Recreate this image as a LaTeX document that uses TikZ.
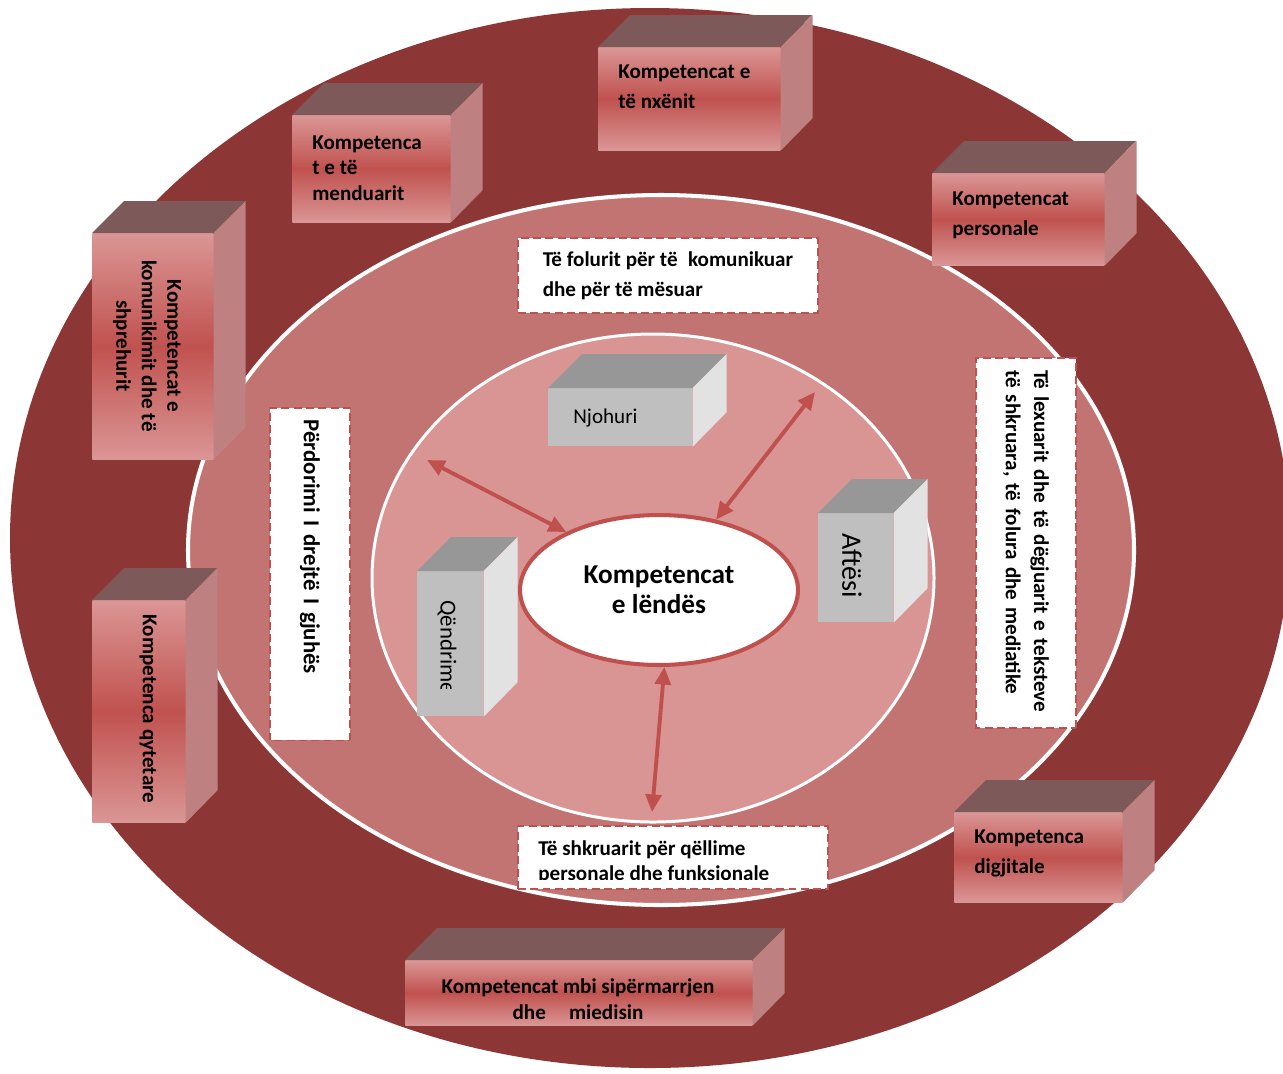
\documentclass[tikz,border=0pt]{standalone}
\usepackage{fontspec}
\setmainfont{Carlito}
\usetikzlibrary{arrows.meta,shapes.geometric}

\definecolor{outerred}{RGB}{140,54,53}
\definecolor{midred}{RGB}{194,116,115}
\definecolor{innerred}{RGB}{217,149,148}
\definecolor{linered}{RGB}{192,80,77}
\definecolor{boxpink}{RGB}{218,150,149}
\definecolor{boxred}{RGB}{192,82,79}
\definecolor{boxtop}{RGB}{126,89,89}
\definecolor{boxside}{RGB}{190,128,128}
\definecolor{greyfront}{RGB}{191,191,191}
\definecolor{greytop}{RGB}{151,151,151}
\definecolor{greyside}{RGB}{226,226,226}

\tikzset{
  redbox/.style={top color=boxpink, bottom color=boxpink, middle color=boxred, inner sep=0pt},
  redbox top/.style={fill=boxtop},
  redbox side/.style={fill=boxside},
  greybox/.style={fill=greyfront, inner sep=0pt},
  greybox top/.style={fill=greytop},
  greybox side/.style={fill=greyside},
  redtext/.style={font=\fontsize{12}{17}\selectfont\bfseries, align=left, inner sep=0pt},
  tight/.style={font=\fontsize{12}{14.5}\selectfont\bfseries},
  greytext/.style={font=\fontsize{12}{14}\selectfont, inner sep=0pt},
  dashbox/.style={draw=linered, line width=1.1pt, dash pattern=on 4.5pt off 2.5pt,
    fill=white, inner sep=0pt, font=\fontsize{12}{17}\selectfont\bfseries, align=left},
  conn/.style={draw=linered, line width=2.2pt,
    {Triangle[length=10pt,width=9pt]}-{Triangle[length=10pt,width=9pt]}}
}

\newcommand{\cuboid}[7]{%
  \node[#2, anchor=north west, minimum width=#5*0.02cm, minimum height=#6*0.02cm] (#1) at (#3,#4) {};
  \fill[#2 top] (#1.north west) -- ++(#7,-#7) -- ++(#5,0) -- (#1.north east) -- cycle;
  \fill[#2 side] (#1.north east) -- ++(#7,-#7) -- ++(0,#6) -- (#1.south east) -- cycle;
}

\begin{document}
\begin{tikzpicture}[x=0.02cm, y=-0.02cm]
  \clip (0,0) rectangle (1283,1073);
  \fill[outerred] (650,538) ellipse [x radius=640, y radius=530];
  \filldraw[fill=midred, draw=white, line width=2.3pt] (661,550) ellipse [x radius=473, y radius=355];
  \filldraw[fill=innerred, draw=white, line width=1.7pt] (653,578) ellipse [x radius=281, y radius=244];

  \node[ellipse, draw=linered, line width=2.3pt, fill=white, minimum width=5.56cm, minimum height=3cm,
    align=center, font=\fontsize{15.5}{17}\selectfont\bfseries] (kl) at (659,590) {Kompetencat\\e lëndës};

  \coordinate (a1) at (427,460);
  \coordinate (a2) at (815,392);
  \coordinate (a3) at (652,812);
  \begin{scope}[conn]
    \draw (a1) -- (kl.148);
    \draw (a2) -- (kl.51);
    \draw (a3) -- (kl.274);
  \end{scope}

  \cuboid{nj}{greybox}{548}{388}{144}{58}{34}
  \node[greytext, anchor=west] (nj-t) at (573,418) {Njohuri};
  \cuboid{qe}{greybox}{417}{571}{66}{145}{34}
  \begin{scope}
    \clip (417,596) rectangle (483,688);
    \node[greytext, font=\fontsize{13}{15}\selectfont, rotate=-90, anchor=west] (qe-t) at (447,600) {Qëndrime};
  \end{scope}
  \cuboid{af}{greybox}{818}{513}{75}{109}{34}
  \node[greytext, font=\fontsize{16}{19}\selectfont, rotate=-90] (af-t) at (852,566) {Aftësi};

  \cuboid{nx}{redbox}{598}{47}{182}{103}{32}
  \node[redtext, anchor=west] (nx-t) at (618,87) {Kompetencat e\\të nxënit};
  \cuboid{me}{redbox}{292}{115}{158}{107}{32}
  \node[redtext, tight, anchor=west] (me-t) at (312,168) {Kompetenca\\t e të\\menduarit};
  \cuboid{pe}{redbox}{932}{173}{172}{92}{32}
  \node[redtext, anchor=west] (pe-t) at (952,215) {Kompetencat\\personale};
  \cuboid{ko}{redbox}{92}{233}{121}{226}{32}
  \node[redtext, tight, rotate=-90, align=center] (ko-t) at (147,346) {Kompetencat e\\komunikimit dhe të\\shprehurit};
  \cuboid{qy}{redbox}{92}{600}{93}{222}{32}
  \node[redtext, rotate=-90] (qy-t) at (148,709) {Kompetenca qytetare};
  \cuboid{di}{redbox}{954}{812}{168}{90}{32}
  \node[redtext, anchor=west] (di-t) at (974,853) {Kompetenca\\digjitale};
  \cuboid{si}{redbox}{405}{960}{347}{65}{32}
  \node[redtext, tight, align=center] (si-t) at (578,999) {Kompetencat mbi sipërmarrjen\\dhe\hspace{1.1em}miedisin};

  \node[dashbox, anchor=north west, minimum width=6cm, minimum height=1.5cm] (fo) at (517,237)
    {Të folurit për të\enspace komunikuar\\dhe për të mësuar};
  \node[dashbox, rotate=-90, minimum width=6.66cm, minimum height=1.6cm, text width=6.18cm,
    font=\fontsize{13}{16}\selectfont\bfseries] (pd) at (310,574)
    {Përdorimi I drejtë I gjuhës};
  \node[dashbox, rotate=-90, minimum width=7.4cm, minimum height=2cm, text width=6.92cm,
    font=\fontsize{12}{16}\selectfont\bfseries] (lx) at (1026,543)
    {Të lexuarit dhe të dëgjuarit e teksteve\\të shkruara, të folura dhe mediatike};
  \node[dashbox, anchor=north west, minimum width=6.2cm, minimum height=1.26cm] (sk) at (517,825) {};
  \begin{scope}
    \clip (520,828) rectangle (824,879);
    \node[redtext, font=\fontsize{12}{14.7}\selectfont\bfseries, anchor=north west] (sk-t) at (538,840)
      {Të shkruarit për qëllime\\personale dhe funksionale};
  \end{scope}
\end{tikzpicture}
\end{document}
